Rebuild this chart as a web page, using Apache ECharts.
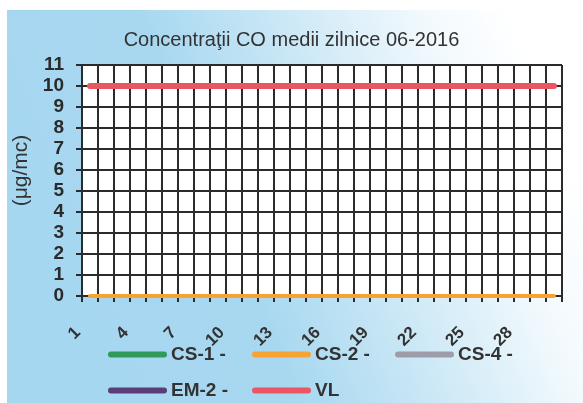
<!DOCTYPE html>
<html>
<head>
<meta charset="utf-8">
<script src="https://cdn.jsdelivr.net/npm/echarts@6/dist/echarts.min.js"></script>
<style>
  html, body { margin: 0; padding: 0; background: #ffffff; }
  #wrap { position: absolute; left: 0; top: 0; width: 583px; height: 403px; background: #ffffff; }
  #bg { position: absolute; left: 7px; top: 10px; width: 576px; height: 393px;
        background: linear-gradient(68deg, #a6d7f0 0%, #a8d8f0 40%, #d2ebf7 62%, #f2f9fd 78%, #ffffff 90%); }
  #chart { position: absolute; left: 0; top: 0; width: 583px; height: 403px; }
</style>
</head>
<body>
<div id="wrap"><div id="bg"></div><div id="chart"></div></div>
<script>
// ---- data ----
const days = ['1','2','3','4','5','6','7','8','9','10','11','12','13','14','15',
              '16','17','18','19','20','21','22','23','24','25','26','27','28','29','30'];
const cs1 = [];   // no data drawn
const cs2 = [0,0,0,0,0,0,0,0,0,0,0,0,0,0,0,0,0,0,0,0,0,0,0,0,0,0,0,0,0,0];
const cs4 = [];   // no data drawn
const em2 = [];   // no data drawn
const vl  = [10,10,10,10,10,10,10,10,10,10,10,10,10,10,10,10,10,10,10,10,10,10,10,10,10,10,10,10,10,10];
const yTicks = [0,1,2,3,4,5,6,7,8,9,10,11];
const titleText = 'Concentraţii CO medii zilnice 06-2016';
const yName = '(μg/mc)';
const names = ['CS-1 -', 'CS-2 -', 'CS-4 -', 'EM-2 -', 'VL'];
const colors = ['#2f9a5c', '#f6a334', '#9d9ca8', '#5b3d77', '#ea5662'];

const font = 'Liberation Sans, Arial, sans-serif';
const pill = 'path://M3,0 L56,0 A3,3 0 0 1 56,6 L3,6 A3,3 0 0 1 3,0 Z';

function legendAt(name, left, top) {
  return {
    data: [name], left: left, top: top, padding: 0, itemGap: 0,
    itemWidth: 59, itemHeight: 6, icon: pill, selectedMode: false,
    textStyle: { fontFamily: font, fontSize: 19, fontWeight: 'bold', color: '#333333', padding: [0,0,0,-1] }
  };
}

const chart = echarts.init(document.getElementById('chart'), null, { renderer: 'canvas' });
chart.setOption({
  backgroundColor: 'transparent',
  animation: false,
  title: {
    text: titleText, left: 'center', top: 25,
    textStyle: { fontFamily: font, fontSize: 20, fontWeight: 'normal', color: '#333333' }
  },
  legend: [
    legendAt(names[0], 108, 345),
    legendAt(names[1], 252, 345),
    legendAt(names[2], 395, 345),
    legendAt(names[3], 108, 381),
    legendAt(names[4], 252, 381)
  ],
  grid: { left: 82, right: 21, top: 65, bottom: 107, show: true, backgroundColor: '#ffffff', borderWidth: 0 },
  xAxis: {
    type: 'category', data: days, boundaryGap: true,
    axisLine: { show: true, lineStyle: { color: '#2b2b2b', width: 2 } },
    axisTick: { show: true, interval: 0, length: 6, lineStyle: { color: '#2b2b2b', width: 2 } },
    splitLine: { show: true, interval: 0, lineStyle: { color: '#2b2b2b', width: 2 } },
    axisLabel: {
      interval: 2, rotate: 45, margin: 22, padding: [0, 17, 0, 0],
      fontFamily: font, fontSize: 17, fontWeight: 'bold', color: '#333333'
    }
  },
  yAxis: {
    type: 'value', min: 0, max: 11, interval: 1,
    name: yName, nameLocation: 'middle', nameGap: 50, nameRotate: 90,
    nameTextStyle: { fontFamily: font, fontSize: 21, color: '#333333', padding: [0, 0, 0, 20] },
    axisLine: { show: true, lineStyle: { color: '#2b2b2b', width: 2 } },
    axisTick: { show: true, length: 6, lineStyle: { color: '#2b2b2b', width: 2 } },
    splitLine: { show: true, lineStyle: { color: '#2b2b2b', width: 2 } },
    axisLabel: {
      margin: 18, fontFamily: font, fontSize: 19, fontWeight: 'bold', color: '#2a2a2a',
      formatter: function (v) { return yTicks.indexOf(v) >= 0 ? String(v) : ''; }
    }
  },
  series: [
    { name: names[0], type: 'line', data: cs1, showSymbol: false, color: colors[0], lineStyle: { width: 4, cap: 'round' } },
    { name: names[1], type: 'line', data: cs2, showSymbol: false, color: colors[1], lineStyle: { width: 4, cap: 'round' } },
    { name: names[2], type: 'line', data: cs4, showSymbol: false, color: colors[2], lineStyle: { width: 4, cap: 'round' } },
    { name: names[3], type: 'line', data: em2, showSymbol: false, color: colors[3], lineStyle: { width: 4, cap: 'round' } },
    { name: names[4], type: 'line', data: vl,  showSymbol: false, color: colors[4], lineStyle: { width: 6, cap: 'round' } }
  ]
});
</script>
</body>
</html>
